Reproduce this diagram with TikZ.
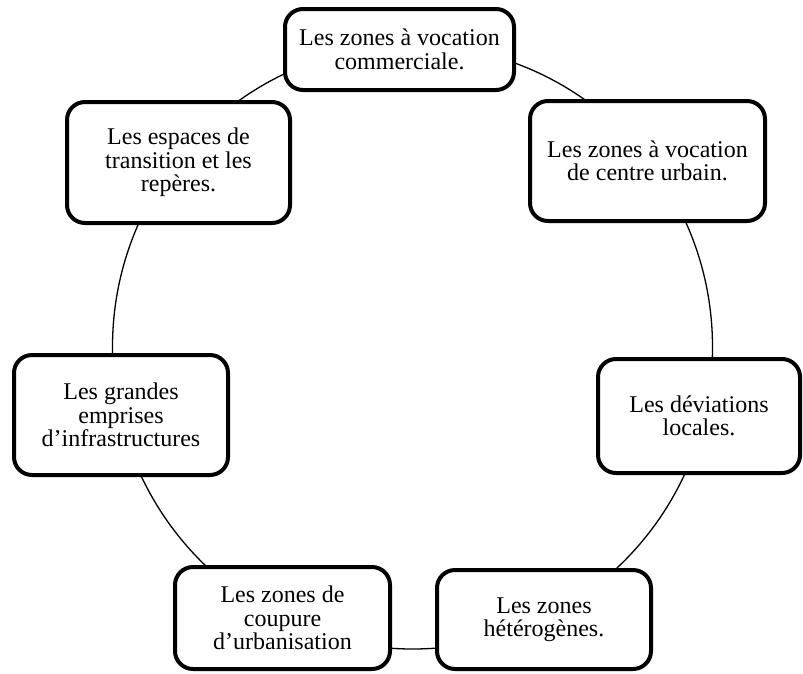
\documentclass[tikz,border=0pt]{standalone}
\usepackage{fontspec}
\setmainfont{Liberation Serif}
\begin{document}
\begin{tikzpicture}[x=1pt,y=-1pt,
  box/.style={draw, line width=4pt, rounded corners=18pt, fill=white, align=center, inner sep=0pt,
    font=\fontsize{24}{23.5}\selectfont},
  ring/.style={line width=1.3pt}]
\useasboundingbox (0,0) rectangle (803,673);
\coordinate (c) at (412.5,347);
\draw[ring] (c) ellipse [x radius=300pt, y radius=302pt];
\node[box, minimum width=229pt, minimum height=81pt] (n1) at (399.5,49.5) {Les zones à vocation\\commerciale.};
\node[box, minimum width=235pt, minimum height=120pt] (n2) at (647.5,161) {Les zones à vocation\\de centre urbain.};
\node[box, minimum width=202pt, minimum height=114pt] (n3) at (699,416) {Les déviations\\locales.};
\node[box, minimum width=214pt, minimum height=99pt] (n4) at (544,619.5) {Les zones\\hétérogènes.};
\node[box, minimum width=215pt, minimum height=102pt] (n5) at (282.5,618) {Les zones de\\coupure\\d’urbanisation};
\node[box, minimum width=214pt, minimum height=120pt] (n6) at (121,415) {Les grandes\\emprises\\d’infrastructures};
\node[box, minimum width=223pt, minimum height=121pt] (n7) at (178.5,162.5) {Les espaces de\\transition et les\\repères.};
\end{tikzpicture}
\end{document}
